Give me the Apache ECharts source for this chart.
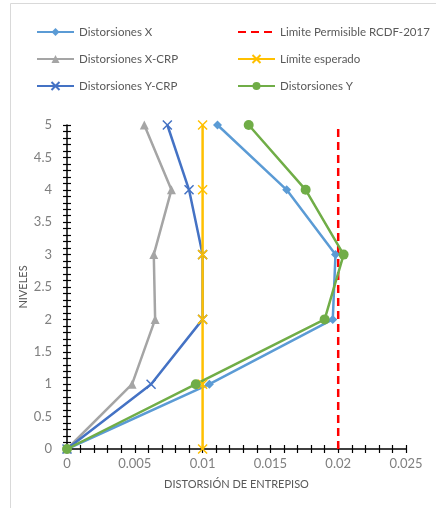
<!DOCTYPE html>
<html><head><meta charset="utf-8">
<script src="https://cdn.jsdelivr.net/npm/echarts@6/dist/echarts.min.js"></script>
<style>html,body{margin:0;padding:0;background:#fff}#c{width:436px;height:508px}</style>
</head><body><div id="c"></div>
<script>
const niveles = [0, 1, 2, 3, 4, 5];
const distX = [0, 0.0105, 0.0196, 0.0198, 0.0162, 0.0111];
const distXCRP = [0, 0.0048, 0.0065, 0.0064, 0.0077, 0.0057];
const distYCRP = [0, 0.0062, 0.0100, 0.0100, 0.0090, 0.0074];
const limiteRCDF = [0.02, 0.02, 0.02, 0.02, 0.02, 0.02];
const limiteEsperado = [0.01, 0.01, 0.01, 0.01, 0.01, 0.01];
const distY = [0, 0.0095, 0.0190, 0.0204, 0.0176, 0.0134];

const pairs = arr => arr.map((v, i) => [v, niveles[i]]);
const font = "Lato, sans-serif";
const chart = echarts.init(document.getElementById('c'));
const mk = (name, data, color, symbol, size, extra) => Object.assign({
  name, type: 'line', data: pairs(data), symbol, symbolSize: size,
  lineStyle: { color, width: 2.5 }, itemStyle: { color },
  animation: false, z: 3
}, extra || {});
const xMark = 'path://M0,0L10,10M10,0L0,10';
const legendText = { color: '#595959', fontSize: 11.5, fontFamily: font };

chart.setOption({
  animation: false,
  textStyle: { fontFamily: font },
  graphic: [{ type: 'rect', shape: { x: 10.5, y: 3.5, width: 500, height: 600 },
    style: { fill: 'none', stroke: '#d9d9d9', lineWidth: 1 }, z: -10 }],
  grid: { left: 67, right: 30, top: 125, bottom: 59 },
  legend: [
    { left: 31, top: 21, orient: 'vertical', itemGap: 15, itemWidth: 37, itemHeight: 10,
      textStyle: legendText,
      data: ['Distorsiones X', 'Distorsiones X-CRP', 'Distorsiones Y-CRP'] },
    { left: 232, top: 21, orient: 'vertical', itemGap: 15, itemWidth: 37, itemHeight: 10,
      textStyle: legendText,
      data: [{ name: 'Limite Permisible RCDF-2017', itemStyle: { opacity: 0 } }, 'Límite esperado', 'Distorsiones Y'] }
  ],
  xAxis: [{
    type: 'value', min: 0, max: 0.025, interval: 0.005,
    name: 'DISTORSIÓN DE ENTREPISO', nameLocation: 'middle', nameGap: 30,
    nameTextStyle: { color: '#595959', fontSize: 11, fontFamily: font },
    axisLine: { onZero: false, lineStyle: { color: '#000', width: 1.5 } },
    axisTick: { show: true, length: 4, lineStyle: { color: '#000', width: 1.2 } },
    minorTick: { show: true, splitNumber: 5, length: 4, lineStyle: { color: '#000', width: 1.2 } },
    axisLabel: { color: '#7f7f7f', fontSize: 13, margin: 8, fontFamily: font,
      formatter: v => String(+v.toFixed(3)) },
    splitLine: { show: false }
  }, {
    type: 'value', min: 0, max: 0.025, interval: 0.005, position: 'bottom',
    axisLine: { show: false }, axisLabel: { show: false },
    axisTick: { show: true, inside: true, length: 4, lineStyle: { color: '#000', width: 1.2 } },
    minorTick: { show: true, splitNumber: 5, length: 4, lineStyle: { color: '#000', width: 1.2 } },
    splitLine: { show: false }
  }],
  yAxis: [{
    type: 'value', min: 0, max: 5, interval: 0.5,
    name: 'NIVELES', nameLocation: 'middle', nameGap: 38, nameMoveOverlap: false,
    nameTextStyle: { color: '#595959', fontSize: 11, fontFamily: font },
    axisLine: { show: true, onZero: false, lineStyle: { color: '#000', width: 1.5 } },
    axisTick: { show: true, length: 4, lineStyle: { color: '#000', width: 1.2 } },
    minorTick: { show: true, splitNumber: 5, length: 4, lineStyle: { color: '#000', width: 1.2 } },
    axisLabel: { color: '#7f7f7f', fontSize: 13, margin: 15, fontFamily: font },
    splitLine: { show: false }
  }, {
    type: 'value', min: 0, max: 5, interval: 0.5, position: 'left',
    axisLine: { show: false }, axisLabel: { show: false },
    axisTick: { show: true, inside: true, length: 4, lineStyle: { color: '#000', width: 1.2 } },
    minorTick: { show: true, splitNumber: 5, length: 4, lineStyle: { color: '#000', width: 1.2 } },
    splitLine: { show: false }
  }],
  series: [
    mk('Distorsiones X', distX, '#5B9BD5', 'diamond', 9),
    mk('Distorsiones X-CRP', distXCRP, '#A5A5A5', 'triangle', 9),
    mk('Distorsiones Y-CRP', distYCRP, '#4472C4', xMark, 9,
      { itemStyle: { color: '#4472C4', borderColor: '#4472C4', borderWidth: 1.5 } }),
    mk('Limite Permisible RCDF-2017', limiteRCDF, '#FF0000', 'none', 0,
      { lineStyle: { color: '#FF0000', width: 2.5, type: [8, 5] }, itemStyle: { color: '#FF0000' } }),
    mk('Límite esperado', limiteEsperado, '#FFC000', xMark, 9,
      { itemStyle: { color: '#FFC000', borderColor: '#FFC000', borderWidth: 1.5 } }),
    mk('Distorsiones Y', distY, '#70AD47', 'circle', 10)
  ]
});
</script></body></html>
